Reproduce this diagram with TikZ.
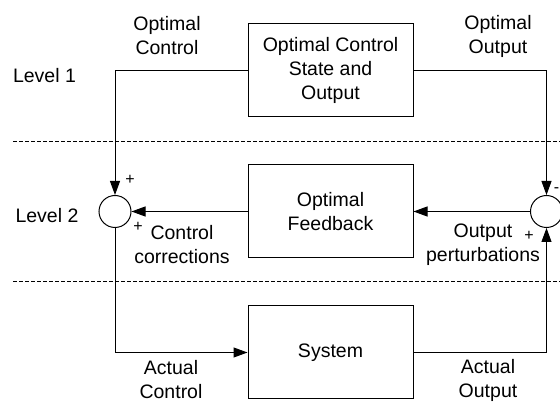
\documentclass[tikz,border=0pt]{standalone}
\usepackage{fontspec}
\setmainfont{Liberation Sans}
\usetikzlibrary{arrows.meta}
\begin{document}
\begin{tikzpicture}[x=1pt,y=-1pt,
  every node/.style={font=\fontsize{19.5pt}{24pt}\selectfont},
  block/.style={draw, line width=1pt, minimum width=165pt, minimum height=93pt,
    align=center, inner sep=0pt},
  sumnode/.style={draw, circle, line width=1pt, minimum size=32pt, inner sep=0pt},
  lbl/.style={align=center, inner sep=0pt},
  sgn/.style={inner sep=0pt, font=\fontsize{16pt}{16pt}\selectfont},
  link/.style={line width=1pt, -{Triangle[length=14pt,width=10pt]}},
  level/.style={line width=0.7pt, dash pattern=on 4pt off 2pt}]
\useasboundingbox (0,0) rectangle (560,403);

% level separators
\draw[level] (13,141.5) -- (560,141.5);
\draw[level] (13,281.5) -- (560,281.5);

% blocks
\node[block] (top) at (330.5,70.5)  {Optimal Control\\State and\\Output};
\node[block] (fb)  at (330.5,211.5) {Optimal\\Feedback};
\node[block] (sys) at (330.5,352.5) {System};

% summing junctions
\node[sumnode] (sumL) at (115,211.5) {};
\node[sumnode] (sumR) at (546.5,211.5) {};

% signal flow
\draw[link] (top.west) -| (sumL.north);
\draw[link] (top.east) -| (sumR.north);
\draw[link] (sumR.west) -- (fb.east);
\draw[link] (fb.west) -- (sumL.east);
\draw[link] (sumL.south) |- (sys.west);
\draw[link] (sys.east) -| (sumR.south);

% signal labels
\node[lbl] (lOC) at (167,36)  {Optimal\\Control};
\node[lbl] (lOO) at (498,36)  {Optimal\\Output};
\node[lbl] (lCC) at (182,245) {Control\\corrections};
\node[lbl] (lOP) at (483,245) {Output\\perturbations};
\node[lbl] (lAC) at (171,380) {Actual\\Control};
\node[lbl] (lAO) at (488,380) {Actual\\Output};

% level names
\node[lbl] (lv1) at (44.5,75.5) {Level 1};
\node[lbl] (lv2) at (47,216)    {Level 2};

% junction signs
\node[sgn] (s1) at (130,180) {+};
\node[sgn] (s2) at (138,227) {+};
\node[sgn] (s3) at (529,236) {+};
\node[sgn] (s4) at (556.5,190) {-};
\end{tikzpicture}
\end{document}
